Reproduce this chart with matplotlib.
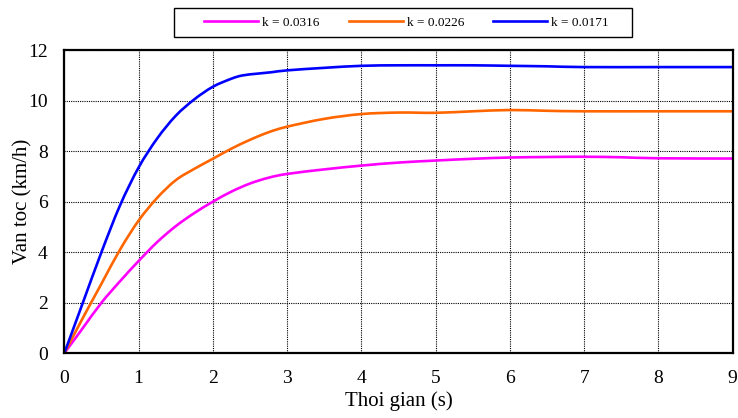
import matplotlib
matplotlib.use("Agg")
import matplotlib.pyplot as plt
from matplotlib.patches import Rectangle, PathPatch
from matplotlib.path import Path
from matplotlib.lines import Line2D

# values
t_k1 = [0, 0.25, 0.5, 0.75, 1, 1.25, 1.5, 1.75, 2, 2.25, 2.5, 2.75, 3, 3.5, 4, 4.5, 5, 5.5, 6, 6.5, 7, 7.5, 8, 9]
v_k1 = [0, 1.0, 2.0, 2.85, 3.65, 4.4, 5.03, 5.55, 6.0, 6.4, 6.72, 6.95, 7.1, 7.28, 7.43, 7.55, 7.63, 7.7, 7.75, 7.77, 7.78, 7.76, 7.72, 7.71]

t_k2 = [0, 0.25, 0.5, 0.75, 1, 1.25, 1.5, 1.75, 2, 2.25, 2.5, 2.75, 3, 3.5, 4, 4.5, 5, 5.5, 6, 6.5, 7, 8, 9]
v_k2 = [0, 1.4, 2.75, 4.1, 5.25, 6.15, 6.85, 7.3, 7.7, 8.1, 8.45, 8.75, 8.97, 9.28, 9.47, 9.53, 9.52, 9.58, 9.63, 9.6, 9.58, 9.58, 9.58]

t_k3 = [0, 0.25, 0.5, 0.75, 1, 1.25, 1.5, 1.75, 2, 2.25, 2.4, 2.6, 2.8, 3, 3.5, 4, 4.5, 5, 5.5, 6, 6.5, 7, 8, 9]
v_k3 = [0, 2.0, 4.0, 5.85, 7.35, 8.5, 9.4, 10.05, 10.55, 10.87, 11.0, 11.07, 11.13, 11.2, 11.3, 11.38, 11.4, 11.4, 11.4, 11.38, 11.36, 11.33, 11.33, 11.33]

labels = ['k = 0.0316', 'k = 0.0226', 'k = 0.0171']
colors = ['#FF00FF', '#FF6600', '#0000FF']


def smooth_path(x, y):
    # Excel-style smoothed line: Catmull-Rom turned into cubic Bezier segments
    pts = list(zip(x, y))
    n = len(pts)
    verts = [pts[0]]
    codes = [Path.MOVETO]
    for i in range(n - 1):
        p0 = pts[i - 1] if i > 0 else pts[i]
        p1 = pts[i]
        p2 = pts[i + 1]
        p3 = pts[i + 2] if i + 2 < n else pts[i + 1]
        c1 = (p1[0] + (p2[0] - p0[0]) / 6, p1[1] + (p2[1] - p0[1]) / 6)
        c2 = (p2[0] - (p3[0] - p1[0]) / 6, p2[1] - (p3[1] - p1[1]) / 6)
        verts += [c1, c2, p2]
        codes += [Path.CURVE4] * 3
    return Path(verts, codes)


plt.rcParams['font.family'] = ['Liberation Serif', 'DejaVu Serif']

fig = plt.figure(figsize=(7.38, 4.18), dpi=100)
ax = fig.add_axes([0.0871, 0.1548, 0.9057, 0.7252])

series = [(t_k1, v_k1), (t_k2, v_k2), (t_k3, v_k3)]
handles = []
for (t, v), lab, c in zip(series, labels, colors):
    ax.add_patch(PathPatch(smooth_path(t, v), facecolor='none', edgecolor=c,
                           linewidth=1.9, joinstyle='round', capstyle='round',
                           zorder=3))
    handles.append(Line2D([], [], color=c, linewidth=1.9))

ax.set_xlim(0, 9)
ax.set_ylim(0, 12)
ax.set_xticks(range(0, 10))
ax.set_yticks(range(0, 13, 2))
ax.grid(True, color='black', linestyle=(0, (1, 1)), linewidth=0.8)
ax.tick_params(length=0, labelsize=14, pad=12)
for s in ax.spines.values():
    s.set_linewidth(1.6)
    s.set_color('black')
    s.set_zorder(4)

ax.set_xlabel('Thoi gian (s)', fontsize=15)
ax.set_ylabel('Van toc (km/h)', fontsize=15)
ax.xaxis.set_label_coords(0.5, -0.125)
ax.yaxis.set_label_coords(-0.047, 0.5)

# legend box drawn separately (Excel-like uneven padding)
fig.patches.append(Rectangle((174 / 738, 1 - 37 / 418), 458 / 738, 29 / 418,
                             transform=fig.transFigure, fill=False,
                             edgecolor='black', linewidth=1.0))
fig.legend(handles=handles, labels=labels, ncol=3, loc='center',
           bbox_to_anchor=(0.5508, 0.946), fontsize=9.5, frameon=False,
           handlelength=4.1, columnspacing=2.2, handletextpad=0.3,
           borderpad=0.2)

fig.savefig('out.png', dpi=100)
